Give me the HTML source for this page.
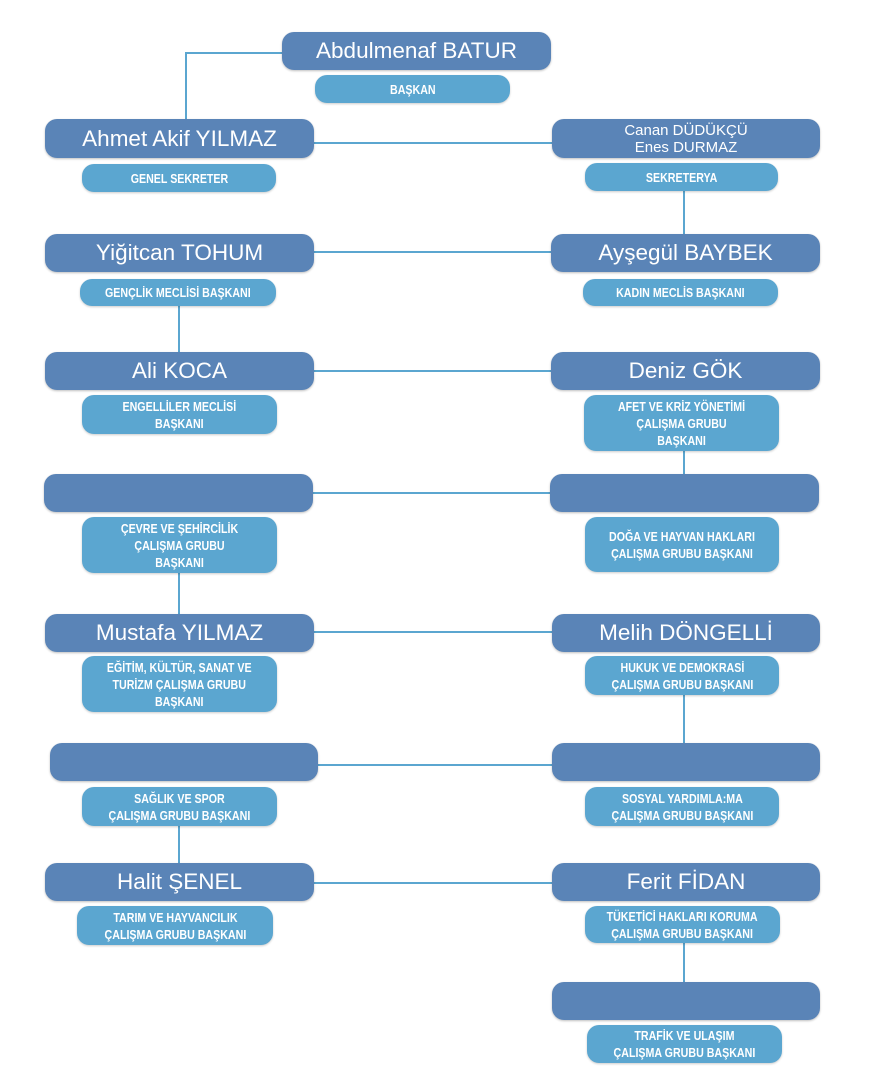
<!DOCTYPE html>
<html><head><meta charset="utf-8"><style>
body{margin:0;width:874px;height:1080px;background:#fff;position:relative;overflow:hidden;font-family:"Liberation Sans",sans-serif}
.d{position:absolute;background:#5a84b7;border-radius:12px;color:#fff;font-size:22.5px;display:flex;align-items:center;justify-content:center;text-align:center;box-shadow:0 1px 2px rgba(0,0,0,.25)}
.l{position:absolute;background:#5ba6d0;border-radius:12px;color:#fff;font-size:13px;font-weight:bold;display:flex;align-items:center;justify-content:center;text-align:center;line-height:17px;box-shadow:0 1px 2px rgba(0,0,0,.2)}
.l span{display:inline-block;transform:scaleX(.82);white-space:nowrap}
.h,.v{position:absolute;background:#5ba6d0}
.h{height:2px}.v{width:2px}
</style></head><body>
<div class="h" style="left:186px;top:52px;width:100px"></div>
<div class="v" style="left:185px;top:52px;height:70px"></div>
<div class="h" style="left:310px;top:142px;width:245px"></div>
<div class="v" style="left:683px;top:188px;height:48px"></div>
<div class="h" style="left:310px;top:251px;width:245px"></div>
<div class="v" style="left:178px;top:304px;height:50px"></div>
<div class="h" style="left:310px;top:370px;width:245px"></div>
<div class="v" style="left:683px;top:448px;height:28px"></div>
<div class="h" style="left:310px;top:492px;width:245px"></div>
<div class="v" style="left:178px;top:570px;height:46px"></div>
<div class="h" style="left:310px;top:631px;width:245px"></div>
<div class="v" style="left:683px;top:692px;height:53px"></div>
<div class="h" style="left:314px;top:764px;width:240px"></div>
<div class="v" style="left:178px;top:823px;height:42px"></div>
<div class="h" style="left:310px;top:882px;width:245px"></div>
<div class="v" style="left:683px;top:940px;height:44px"></div>

<div class="d" style="left:282px;top:32px;width:269px;height:38px">Abdulmenaf BATUR</div>
<div class="l" style="left:315px;top:75px;width:195px;height:28px"><span>BAŞKAN</span></div>

<div class="d" style="left:45px;top:119px;width:269px;height:39px">Ahmet Akif YILMAZ</div>
<div class="l" style="left:82px;top:164px;width:194px;height:28px"><span>GENEL SEKRETER</span></div>
<div class="d" style="left:552px;top:119px;width:268px;height:39px;font-size:15px;line-height:17px">Canan DÜDÜKÇÜ<br>Enes DURMAZ</div>
<div class="l" style="left:585px;top:163px;width:193px;height:28px"><span>SEKRETERYA</span></div>

<div class="d" style="left:45px;top:234px;width:269px;height:38px">Yiğitcan TOHUM</div>
<div class="l" style="left:80px;top:279px;width:196px;height:27px"><span>GENÇLİK MECLİSİ BAŞKANI</span></div>
<div class="d" style="left:551px;top:234px;width:269px;height:38px">Ayşegül BAYBEK</div>
<div class="l" style="left:583px;top:279px;width:195px;height:27px"><span>KADIN MECLİS BAŞKANI</span></div>

<div class="d" style="left:45px;top:352px;width:269px;height:38px">Ali KOCA</div>
<div class="l" style="left:82px;top:395px;width:195px;height:39px"><span>ENGELLİLER MECLİSİ<br>BAŞKANI</span></div>
<div class="d" style="left:551px;top:352px;width:269px;height:38px">Deniz GÖK</div>
<div class="l" style="left:584px;top:395px;width:195px;height:56px"><span>AFET VE KRİZ YÖNETİMİ<br>ÇALIŞMA GRUBU<br>BAŞKANI</span></div>

<div class="d" style="left:44px;top:474px;width:269px;height:38px"></div>
<div class="l" style="left:82px;top:517px;width:195px;height:56px"><span>ÇEVRE VE ŞEHİRCİLİK<br>ÇALIŞMA GRUBU<br>BAŞKANI</span></div>
<div class="d" style="left:550px;top:474px;width:269px;height:38px"></div>
<div class="l" style="left:585px;top:517px;width:194px;height:55px"><span>DOĞA VE HAYVAN HAKLARI<br>ÇALIŞMA GRUBU BAŞKANI</span></div>

<div class="d" style="left:45px;top:614px;width:269px;height:38px">Mustafa YILMAZ</div>
<div class="l" style="left:82px;top:656px;width:195px;height:56px"><span>EĞİTİM, KÜLTÜR, SANAT VE<br>TURİZM ÇALIŞMA GRUBU<br>BAŞKANI</span></div>
<div class="d" style="left:552px;top:614px;width:268px;height:38px">Melih DÖNGELLİ</div>
<div class="l" style="left:585px;top:656px;width:194px;height:39px"><span>HUKUK VE DEMOKRASİ<br>ÇALIŞMA GRUBU BAŞKANI</span></div>

<div class="d" style="left:50px;top:743px;width:268px;height:38px"></div>
<div class="l" style="left:82px;top:787px;width:195px;height:39px"><span>SAĞLIK VE SPOR<br>ÇALIŞMA GRUBU BAŞKANI</span></div>
<div class="d" style="left:552px;top:743px;width:268px;height:38px"></div>
<div class="l" style="left:585px;top:787px;width:194px;height:39px"><span>SOSYAL YARDIMLA:MA<br>ÇALIŞMA GRUBU BAŞKANI</span></div>

<div class="d" style="left:45px;top:863px;width:269px;height:38px">Halit ŞENEL</div>
<div class="l" style="left:77px;top:906px;width:196px;height:39px"><span>TARIM VE HAYVANCILIK<br>ÇALIŞMA GRUBU BAŞKANI</span></div>
<div class="d" style="left:552px;top:863px;width:268px;height:38px">Ferit FİDAN</div>
<div class="l" style="left:585px;top:906px;width:195px;height:37px"><span>TÜKETİCİ HAKLARI KORUMA<br>ÇALIŞMA GRUBU BAŞKANI</span></div>

<div class="d" style="left:552px;top:982px;width:268px;height:38px"></div>
<div class="l" style="left:587px;top:1025px;width:195px;height:38px"><span>TRAFİK VE ULAŞIM<br>ÇALIŞMA GRUBU BAŞKANI</span></div>
</body></html>
